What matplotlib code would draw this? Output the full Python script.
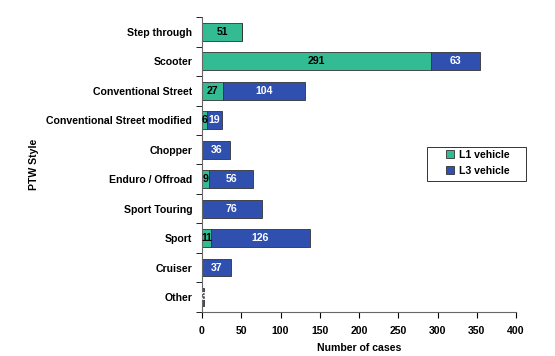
import matplotlib.pyplot as plt
from matplotlib.patches import Rectangle
import numpy as np

plt.rcParams['font.family'] = ['Liberation Sans', 'DejaVu Sans']
plt.rcParams['font.weight'] = 'bold'

styles = ['Step through', 'Scooter', 'Conventional Street',
          'Conventional Street modified', 'Chopper', 'Enduro / Offroad',
          'Sport Touring', 'Sport', 'Cruiser', 'Other']
l1 = [51, 291, 27, 6, 0, 9, 0, 11, 0, 0]
l3 = [0, 63, 104, 19, 36, 56, 76, 126, 37, 3]

green = '#33BB94'
blue = '#3050B0'
fs = 7.6

fig = plt.figure(figsize=(5.55, 3.56), dpi=100)
ax = fig.add_axes([0.364, 0.124, 0.566, 0.828])

y = np.arange(len(styles))
ax.barh(y, l1, height=0.6, color=green, edgecolor='#333333', linewidth=0.6,
        label='L1 vehicle')
ax.barh(y, l3, left=l1, height=0.6, color=blue, edgecolor='#333333',
        linewidth=0.6, label='L3 vehicle')

# value labels inside the segments
for i in range(len(styles)):
    if l1[i] > 0:
        ax.text(l1[i] / 2, i, str(l1[i]), ha='center', va='center',
                fontsize=fs, color='black', fontweight='bold')
    if l3[i] > 0:
        ax.text(l1[i] + l3[i] / 2, i, str(l3[i]), ha='center', va='center',
                fontsize=fs, color='white', fontweight='bold')

ax.set_xlim(0, 400)
ax.set_ylim(len(styles) - 0.5, -0.5)
ax.set_xticks(range(0, 401, 50))
ax.set_yticks(y)
ax.set_yticklabels(styles, fontsize=fs)
ax.set_yticks(np.arange(-0.5, len(styles), 1), minor=True)
ax.tick_params(axis='y', which='major', length=0, pad=7)
ax.tick_params(axis='y', which='minor', length=4, direction='out')
ax.tick_params(axis='x', labelsize=fs, length=4, direction='out', pad=6)

for s in ['top', 'right']:
    ax.spines[s].set_visible(False)
ax.spines['left'].set_color('#666666')
ax.spines['bottom'].set_color('#666666')

ax.set_xlabel('Number of cases', fontsize=fs, fontweight='bold', labelpad=5)
ax.set_ylabel('PTW Style', fontsize=fs, fontweight='bold')
ax.yaxis.set_label_coords(-0.52, 0.5)

# legend with a wide frame drawn separately
leg = ax.legend(loc='upper left', bbox_to_anchor=(446 / 555, 1 - 150 / 356),
                bbox_transform=fig.transFigure, fontsize=fs, frameon=False,
                handlelength=0.8, handleheight=0.8, handletextpad=0.4,
                borderpad=0, borderaxespad=0, labelspacing=0.55)
fig.patches.append(Rectangle((427 / 555, 1 - 181 / 356), 99 / 555, 34 / 356,
                             transform=fig.transFigure, fill=False,
                             edgecolor='#333333', linewidth=0.7))

fig.savefig('out.png', dpi=100)
